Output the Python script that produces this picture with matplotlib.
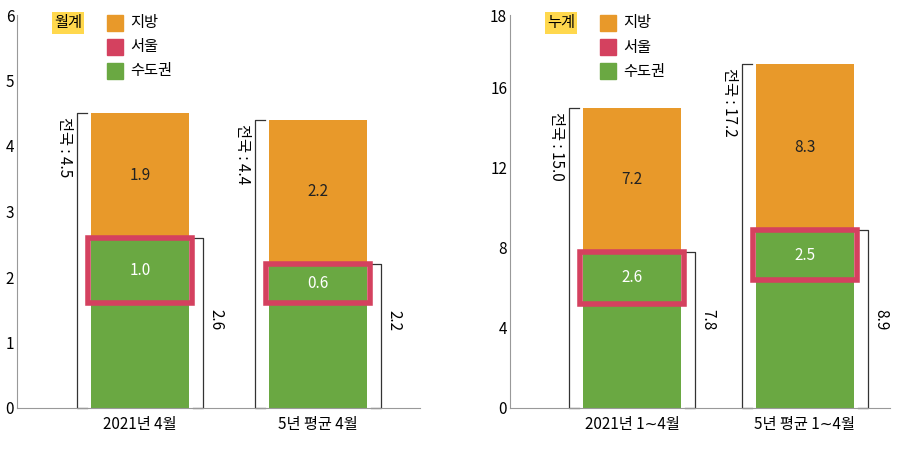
import matplotlib.pyplot as plt
from matplotlib.patches import Rectangle

plt.rcParams['font.family'] = ['Noto Sans CJK KR', 'Noto Sans CJK JP', 'Noto Sans CJK SC', 'DejaVu Sans']

left_cats = ['2021년 4월', '5년 평균 4월']
left_metro = [2.6, 2.2]
left_seoul = [1.0, 0.6]
left_local = [1.9, 2.2]
left_total = [4.5, 4.4]

right_cats = ['2021년 1∼4월', '5년 평균 1∼4월']
right_metro = [7.8, 8.9]
right_seoul = [2.6, 2.5]
right_local = [7.2, 8.3]
right_total = [15.0, 17.2]

ORANGE = '#E8992A'
PINK = '#D4415F'
GREEN = '#6AA842'

fig = plt.figure(figsize=(9, 4.58), dpi=100)


def panel(rect, xmax, centers, cats, metro, seoul, local, total, ymax, yticks, ylabels, tag):
    ax = fig.add_axes(rect)
    ax.set_xlim(0, xmax)
    ax.set_ylim(0, ymax)
    h_px = rect[3] * 458
    u = ymax / h_px  # data units per pixel
    w = 98
    for c, m, s, l, t in zip(centers, metro, seoul, local, total):
        ax.bar(c, m, width=w, color=GREEN)
        ax.bar(c, l, bottom=m, width=w, color=ORANGE)
        ax.add_patch(Rectangle((c - w / 2 - 3, m - s), w + 6, s, fill=False,
                               edgecolor=PINK, lw=4, zorder=3))
        ax.text(c, m - s / 2, f'{s}', ha='center', va='center', color='white', fontsize=11, zorder=4)
        ax.text(c, m + l / 2, f'{l}', ha='center', va='center', color='#222222', fontsize=11)
        # left bracket (total)
        bx = c - 63
        ax.plot([bx + 10, bx, bx, bx + 10], [0, 0, t, t], color='#333333', lw=0.9, clip_on=False)
        ax.text(bx - 4, t - 4 * u, f'전국 : {t}', rotation=270, ha='right', va='top', fontsize=11)
        # right bracket (metro)
        rx = c + 63
        ax.plot([rx - 10, rx, rx, rx - 10], [0, 0, m, m], color='#333333', lw=0.9, clip_on=False)
        ax.text(rx + 4, 88 * u, f'{m}', rotation=270, ha='left', va='center', fontsize=11)
    ax.set_xticks(centers)
    ax.set_xticklabels(cats, fontsize=11)
    ax.tick_params(axis='x', length=0, pad=6)
    ax.set_yticks(yticks)
    ax.set_yticklabels(ylabels)
    ax.tick_params(axis='y', length=0, labelsize=11, pad=2)
    for s in ['top', 'right']:
        ax.spines[s].set_visible(False)
    ax.spines['left'].set_color('#999999')
    ax.spines['bottom'].set_color('#999999')
    # legend
    lx = 55
    ax.text(lx - 18, ymax - 8 * u, tag, fontsize=11, va='center', ha='left',
            bbox=dict(boxstyle='square,pad=0.15', fc='#FFD84D', ec='none'))
    for i, (lab, col) in enumerate([('지방', ORANGE), ('서울', PINK), ('수도권', GREEN)]):
        y = ymax - (8 + 24 * i) * u
        ax.add_patch(Rectangle((lx + 35, y - 8 * u), 16, 16 * u, color=col, clip_on=False))
        ax.text(lx + 58, y, lab, fontsize=11, va='center')
    return ax


panel([17 / 900, 50 / 458, 403 / 900, 393 / 458], 403, [123, 301], left_cats,
      left_metro, left_seoul, left_local, left_total, 6, range(0, 7),
      [str(v) for v in range(0, 7)], '월계')
# right axis top tick reads 18 but sits above the regular 4-unit spacing
panel([510 / 900, 50 / 458, 380 / 900, 393 / 458], 380, [122, 295], right_cats,
      right_metro, right_seoul, right_local, right_total, 19.65,
      [0, 4, 8, 12, 16, 19.65], ['0', '4', '8', '12', '16', '18'], '누계')

fig.savefig('out.png', dpi=100)
